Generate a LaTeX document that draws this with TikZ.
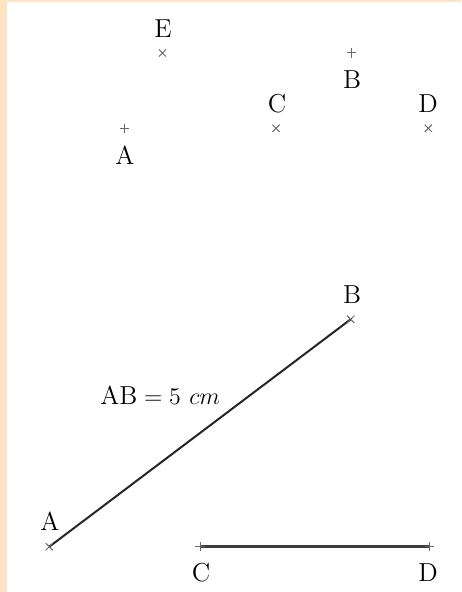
\documentclass[tikz,border=0pt]{standalone}
\usepackage{xcolor}
\definecolor{peach}{RGB}{255,228,196}
\definecolor{markgray}{RGB}{105,105,105}
\definecolor{segcol}{RGB}{60,60,60}
\tikzset{
  lbl/.style={inner sep=0pt, font=\fontsize{13}{15.5}\selectfont},
  crossmk/.pic={\draw[markgray, line width=0.5pt] (-3.6,-3.6) -- (3.6,3.6) (-3.6,3.6) -- (3.6,-3.6);},
  plusmk/.pic={\draw[markgray, line width=0.5pt] (-4.6,0) -- (4.6,0) (0,-4.6) -- (0,4.6);},
  segline/.style={line width=1pt, black!85},
  cdline/.style={line width=1.25pt, segcol}
}
\begin{document}
\begin{tikzpicture}[x=0.5pt, y=-0.5pt]
  \useasboundingbox (0,0) rectangle (461,592);
  \fill[peach] (0,0) rectangle (461,592);
  \fill[white] (7,2) rectangle (461,592);
  % top part
  \coordinate (E1) at (162.5,53);
  \coordinate (B1) at (351.7,53);
  \coordinate (A1) at (124.3,128.3);
  \coordinate (C1) at (276,128.3);
  \coordinate (D1) at (428.3,128.3);
  \pic at (E1) {crossmk};
  \pic at (B1) {plusmk};
  \pic at (A1) {plusmk};
  \pic at (C1) {crossmk};
  \pic at (D1) {crossmk};
  \node[lbl] (lE1) at (163,29) {E};
  \node[lbl] (lB1) at (352,80) {B};
  \node[lbl] (lA1) at (125,155) {A};
  \node[lbl] (lC1) at (277,103.5) {C};
  \node[lbl] (lD1) at (428,103.5) {D};
  % bottom part
  \coordinate (A2) at (49.3,546.7);
  \coordinate (B2) at (350.7,319.3);
  \coordinate (C2) at (200,546.7);
  \coordinate (D2) at (429.3,546.7);
  \draw[segline] (A2) -- (B2);
  \draw[cdline] (C2) -- (D2);
  \pic at (A2) {crossmk};
  \pic at (B2) {crossmk};
  \pic at (C2) {plusmk};
  \pic at (D2) {plusmk};
  \node[lbl] (lA2) at (50,521.7) {A};
  \node[lbl] (lB2) at (352,295) {B};
  \node[lbl] (lC2) at (201,572.7) {C};
  \node[lbl] (lD2) at (428,572.7) {D};
  \node[lbl, anchor=base west] (lAB) at (100,404) {AB${}=5\ cm$};
\end{tikzpicture}
\end{document}
